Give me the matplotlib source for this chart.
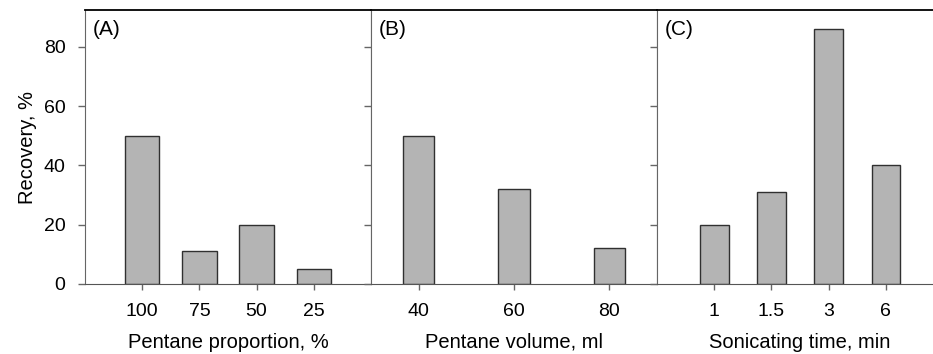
import matplotlib
matplotlib.use("Agg")
import matplotlib.pyplot as plt

plt.rcParams['font.family'] = ['Liberation Sans', 'DejaVu Sans']

# Data
a_labels = ["100", "75", "50", "25"]
a_values = [50, 11, 20, 5]
b_labels = ["40", "60", "80"]
b_values = [50, 32, 12]
c_labels = ["1", "1.5", "3", "6"]
c_values = [20, 31, 86, 40]

panel_letters = ["(A)", "(B)", "(C)"]
xlabels = ["Pentane proportion, %", "Pentane volume, ml", "Sonicating time, min"]
ylabel = "Recovery, %"
yticks = [0, 20, 40, 60, 80]

W, H = 933, 354
fig = plt.figure(figsize=(W / 100, H / 100), dpi=100)

def px_axes(left, top, width, height):
    return fig.add_axes([left / W, (H - top - height) / H, width / W, height / H])

panels = [
    (85, a_labels, a_values, (0, 5), 0.6),
    (371, b_labels, b_values, (0.5, 3.5), 0.33),
    (657, c_labels, c_values, (0, 5), 0.5),
]

bar_face = "#b4b4b4"
bar_edge = "#303030"
grey = "#666666"

for i, (left, labels, values, xlim, bw) in enumerate(panels):
    ax = px_axes(left, 10, 286, 274)
    pos = list(range(1, len(values) + 1))
    ax.bar(pos, values, width=bw, color=bar_face, edgecolor=bar_edge, linewidth=1.0, zorder=2)
    ax.set_xlim(*xlim)
    ax.set_ylim(0, 92.4)
    ax.set_xticks(pos)
    ax.set_xticklabels(labels, fontsize=14)
    ax.set_yticks(yticks)
    if i == 0:
        ax.set_yticklabels([str(v) for v in yticks], fontsize=14)
        ax.set_ylabel(ylabel, fontsize=14.5, labelpad=5)
    else:
        ax.set_yticklabels([])
    ax.tick_params(axis='x', direction='out', length=4, width=1, color=grey, pad=10)
    ax.tick_params(axis='y', direction='out', length=5, width=1, color=grey, pad=9)
    ax.set_xlabel(xlabels[i], fontsize=14.5, labelpad=9)
    ax.spines['top'].set_color('black')
    ax.spines['top'].set_linewidth(1.3)
    ax.spines['left'].set_color(grey)
    ax.spines['bottom'].set_color('#555555')
    ax.spines['right'].set_color(grey)
    ax.text(8 / 286, 1 - 10 / 274, panel_letters[i], transform=ax.transAxes,
            fontsize=15, ha='left', va='top')

fig.savefig("out.png", dpi=100)
